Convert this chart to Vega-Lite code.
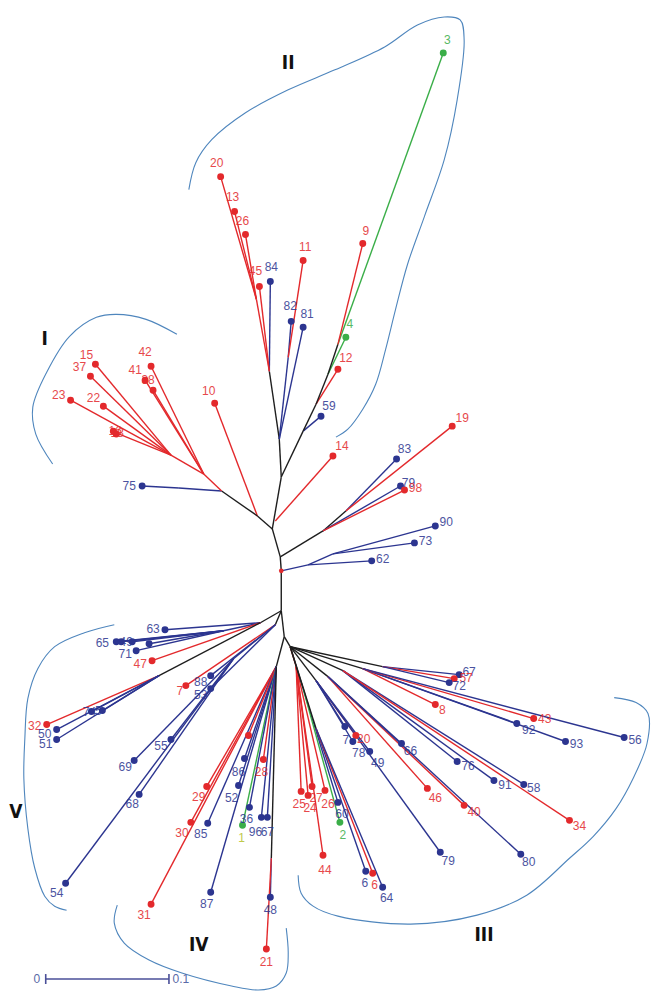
{
"$schema": "https://vega.github.io/schema/vega-lite/v6.json",
"width": 652, "height": 993, "padding": 0,
"autosize": {"type": "fit", "contains": "padding"},
"background": "white",
"config": {"view": {"stroke": null}},
"datasets": {
"segs": [
{"x":283,"y":572,"x2":283,"y2":612,"c":"k"},
{"x":283,"y":572,"x2":282,"y2":558,"c":"k"},
{"x":282,"y":558,"x2":274,"y2":530,"c":"k"},
{"x":274,"y":530,"x2":283,"y2":478,"c":"k"},
{"x":283,"y":478,"x2":281,"y2":440,"c":"k"},
{"x":283,"y":478,"x2":305,"y2":432,"c":"k"},
{"x":281,"y":440,"x2":271,"y2":372,"c":"k"},
{"x":271,"y":372,"x2":272,"y2":282,"c":"b"},
{"x":271,"y":372,"x2":261,"y2":287,"c":"r"},
{"x":271,"y":372,"x2":258,"y2":300,"c":"r"},
{"x":258,"y":300,"x2":222,"y2":177,"c":"r"},
{"x":258,"y":300,"x2":236,"y2":212,"c":"r"},
{"x":258,"y":300,"x2":247,"y2":235,"c":"r"},
{"x":281,"y":440,"x2":290,"y2":358,"c":"b"},
{"x":290,"y":358,"x2":293,"y2":322,"c":"b"},
{"x":290,"y":358,"x2":305,"y2":261,"c":"r"},
{"x":281,"y":440,"x2":305,"y2":328,"c":"b"},
{"x":305,"y":432,"x2":323,"y2":417,"c":"b"},
{"x":305,"y":432,"x2":318,"y2":405,"c":"k"},
{"x":318,"y":405,"x2":340,"y2":370,"c":"r"},
{"x":318,"y":405,"x2":330,"y2":375,"c":"k"},
{"x":330,"y":375,"x2":348,"y2":338,"c":"g"},
{"x":330,"y":375,"x2":340,"y2":345,"c":"k"},
{"x":340,"y":345,"x2":446,"y2":53,"c":"g"},
{"x":340,"y":345,"x2":365,"y2":244,"c":"r"},
{"x":277,"y":522,"x2":335,"y2":457,"c":"r"},
{"x":282,"y":558,"x2":325,"y2":532,"c":"k"},
{"x":325,"y":532,"x2":348,"y2":512,"c":"k"},
{"x":348,"y":512,"x2":399,"y2":460,"c":"b"},
{"x":348,"y":512,"x2":455,"y2":427,"c":"r"},
{"x":325,"y":532,"x2":403,"y2":487,"c":"b"},
{"x":325,"y":532,"x2":407,"y2":491,"c":"r"},
{"x":283,"y":572,"x2":310,"y2":566,"c":"b"},
{"x":310,"y":566,"x2":374,"y2":562,"c":"b"},
{"x":310,"y":566,"x2":335,"y2":555,"c":"b"},
{"x":335,"y":555,"x2":417,"y2":544,"c":"b"},
{"x":335,"y":555,"x2":438,"y2":527,"c":"b"},
{"x":274,"y":530,"x2":259,"y2":517,"c":"k"},
{"x":259,"y":517,"x2":216,"y2":404,"c":"r"},
{"x":259,"y":517,"x2":223,"y2":492,"c":"k"},
{"x":223,"y":492,"x2":180,"y2":489,"c":"b"},
{"x":180,"y":489,"x2":143,"y2":487,"c":"b"},
{"x":223,"y":492,"x2":205,"y2":475,"c":"r"},
{"x":205,"y":475,"x2":152,"y2":367,"c":"r"},
{"x":205,"y":475,"x2":146,"y2":381,"c":"r"},
{"x":205,"y":475,"x2":154,"y2":391,"c":"r"},
{"x":205,"y":475,"x2":172,"y2":456,"c":"r"},
{"x":172,"y":456,"x2":96,"y2":365,"c":"r"},
{"x":172,"y":456,"x2":91,"y2":377,"c":"r"},
{"x":172,"y":456,"x2":71,"y2":401,"c":"r"},
{"x":172,"y":456,"x2":104,"y2":407,"c":"r"},
{"x":172,"y":456,"x2":115,"y2":433,"c":"r"},
{"x":283,"y":612,"x2":262,"y2":624,"c":"k"},
{"x":262,"y":624,"x2":166,"y2":631,"c":"b"},
{"x":262,"y":624,"x2":225,"y2":632,"c":"b"},
{"x":225,"y":632,"x2":117,"y2":643,"c":"b"},
{"x":225,"y":632,"x2":122,"y2":643,"c":"b"},
{"x":225,"y":632,"x2":133,"y2":643,"c":"b"},
{"x":225,"y":632,"x2":137,"y2":652,"c":"b"},
{"x":225,"y":632,"x2":150,"y2":645,"c":"b"},
{"x":262,"y":624,"x2":153,"y2":662,"c":"r"},
{"x":262,"y":624,"x2":160,"y2":677,"c":"k"},
{"x":160,"y":677,"x2":47,"y2":726,"c":"r"},
{"x":160,"y":677,"x2":57,"y2":731,"c":"b"},
{"x":160,"y":677,"x2":57,"y2":741,"c":"b"},
{"x":160,"y":677,"x2":92,"y2":713,"c":"b"},
{"x":160,"y":677,"x2":103,"y2":712,"c":"b"},
{"x":283,"y":612,"x2":277,"y2":626,"c":"k"},
{"x":277,"y":626,"x2":212,"y2":677,"c":"b"},
{"x":277,"y":626,"x2":187,"y2":687,"c":"r"},
{"x":277,"y":626,"x2":212,"y2":690,"c":"b"},
{"x":277,"y":626,"x2":235,"y2":660,"c":"b"},
{"x":235,"y":660,"x2":172,"y2":741,"c":"b"},
{"x":235,"y":660,"x2":135,"y2":762,"c":"b"},
{"x":235,"y":660,"x2":140,"y2":796,"c":"b"},
{"x":235,"y":660,"x2":66,"y2":885,"c":"b"},
{"x":283,"y":612,"x2":286,"y2":638,"c":"k"},
{"x":286,"y":638,"x2":278,"y2":668,"c":"k"},
{"x":278,"y":668,"x2":208,"y2":788,"c":"r"},
{"x":278,"y":668,"x2":192,"y2":824,"c":"r"},
{"x":278,"y":668,"x2":152,"y2":906,"c":"r"},
{"x":278,"y":668,"x2":209,"y2":825,"c":"b"},
{"x":278,"y":668,"x2":212,"y2":894,"c":"b"},
{"x":278,"y":668,"x2":240,"y2":787,"c":"b"},
{"x":278,"y":668,"x2":246,"y2":760,"c":"b"},
{"x":278,"y":668,"x2":250,"y2":737,"c":"r"},
{"x":278,"y":668,"x2":265,"y2":761,"c":"r"},
{"x":278,"y":668,"x2":244,"y2":827,"c":"g"},
{"x":278,"y":668,"x2":251,"y2":809,"c":"b"},
{"x":278,"y":668,"x2":263,"y2":819,"c":"b"},
{"x":278,"y":668,"x2":269,"y2":819,"c":"b"},
{"x":278,"y":668,"x2":273,"y2":860,"c":"k"},
{"x":273,"y":860,"x2":272,"y2":899,"c":"b"},
{"x":273,"y":860,"x2":268,"y2":951,"c":"r"},
{"x":286,"y":638,"x2":292,"y2":648,"c":"k"},
{"x":292,"y":648,"x2":298,"y2":668,"c":"r"},
{"x":298,"y":668,"x2":303,"y2":793,"c":"r"},
{"x":298,"y":668,"x2":310,"y2":797,"c":"r"},
{"x":298,"y":668,"x2":314,"y2":788,"c":"r"},
{"x":298,"y":668,"x2":325,"y2":857,"c":"r"},
{"x":298,"y":668,"x2":327,"y2":792,"c":"r"},
{"x":292,"y":648,"x2":305,"y2":690,"c":"k"},
{"x":305,"y":690,"x2":340,"y2":804,"c":"b"},
{"x":305,"y":690,"x2":342,"y2":824,"c":"g"},
{"x":292,"y":648,"x2":318,"y2":730,"c":"k"},
{"x":318,"y":730,"x2":368,"y2":873,"c":"b"},
{"x":318,"y":730,"x2":375,"y2":875,"c":"r"},
{"x":318,"y":730,"x2":385,"y2":889,"c":"b"},
{"x":292,"y":648,"x2":318,"y2":682,"c":"k"},
{"x":318,"y":682,"x2":347,"y2":728,"c":"b"},
{"x":318,"y":682,"x2":358,"y2":737,"c":"r"},
{"x":318,"y":682,"x2":355,"y2":743,"c":"b"},
{"x":318,"y":682,"x2":372,"y2":753,"c":"b"},
{"x":318,"y":682,"x2":443,"y2":854,"c":"b"},
{"x":292,"y":648,"x2":330,"y2":678,"c":"k"},
{"x":330,"y":678,"x2":404,"y2":745,"c":"b"},
{"x":330,"y":678,"x2":430,"y2":790,"c":"r"},
{"x":330,"y":678,"x2":467,"y2":807,"c":"r"},
{"x":330,"y":678,"x2":524,"y2":856,"c":"b"},
{"x":292,"y":648,"x2":345,"y2":672,"c":"k"},
{"x":345,"y":672,"x2":460,"y2":763,"c":"b"},
{"x":345,"y":672,"x2":497,"y2":782,"c":"b"},
{"x":345,"y":672,"x2":527,"y2":786,"c":"b"},
{"x":345,"y":672,"x2":573,"y2":822,"c":"r"},
{"x":292,"y":648,"x2":365,"y2":670,"c":"k"},
{"x":365,"y":670,"x2":438,"y2":706,"c":"r"},
{"x":365,"y":670,"x2":520,"y2":725,"c":"b"},
{"x":365,"y":670,"x2":569,"y2":743,"c":"b"},
{"x":365,"y":670,"x2":537,"y2":720,"c":"r"},
{"x":365,"y":670,"x2":628,"y2":739,"c":"b"},
{"x":292,"y":648,"x2":385,"y2":668,"c":"k"},
{"x":385,"y":668,"x2":462,"y2":676,"c":"b"},
{"x":385,"y":668,"x2":457,"y2":680,"c":"r"},
{"x":385,"y":668,"x2":452,"y2":684,"c":"b"}
],
"tips": [
{"t":"3","x":446,"y":53,"c":"g","lx":450,"ly":40,"lc":"g"},
{"t":"20","x":222,"y":177,"c":"r","lx":218,"ly":163,"lc":"r"},
{"t":"13","x":236,"y":212,"c":"r","lx":234,"ly":197,"lc":"r"},
{"t":"26","x":247,"y":235,"c":"r","lx":244,"ly":221,"lc":"r"},
{"t":"45","x":261,"y":287,"c":"r","lx":257,"ly":272,"lc":"r"},
{"t":"84","x":272,"y":282,"c":"b","lx":273,"ly":268,"lc":"b"},
{"t":"11","x":305,"y":261,"c":"r","lx":307,"ly":247,"lc":"r"},
{"t":"82","x":293,"y":322,"c":"b","lx":292,"ly":307,"lc":"b"},
{"t":"81","x":305,"y":328,"c":"b","lx":309,"ly":315,"lc":"b"},
{"t":"9","x":365,"y":244,"c":"r","lx":368,"ly":231,"lc":"r"},
{"t":"4","x":348,"y":338,"c":"g","lx":352,"ly":325,"lc":"g"},
{"t":"12","x":340,"y":370,"c":"r","lx":348,"ly":359,"lc":"r"},
{"t":"59","x":323,"y":417,"c":"b","lx":331,"ly":407,"lc":"b"},
{"t":"10","x":216,"y":404,"c":"r","lx":210,"ly":392,"lc":"r"},
{"t":"15","x":96,"y":365,"c":"r","lx":87,"ly":356,"lc":"r"},
{"t":"37","x":91,"y":377,"c":"r","lx":80,"ly":368,"lc":"r"},
{"t":"23","x":71,"y":401,"c":"r","lx":59,"ly":396,"lc":"r"},
{"t":"22","x":104,"y":407,"c":"r","lx":94,"ly":399,"lc":"r"},
{"t":"16","x":114,"y":432,"c":"r","lx":116,"ly":432,"lc":"r"},
{"t":"18","x":117,"y":435,"c":"r","lx":118,"ly":434,"lc":"r"},
{"t":"42","x":152,"y":367,"c":"r","lx":146,"ly":353,"lc":"r"},
{"t":"41","x":146,"y":381,"c":"r","lx":136,"ly":371,"lc":"r"},
{"t":"38","x":154,"y":391,"c":"r","lx":149,"ly":381,"lc":"r"},
{"t":"75","x":143,"y":487,"c":"b","lx":130,"ly":487,"lc":"b"},
{"t":"14","x":335,"y":457,"c":"r","lx":344,"ly":447,"lc":"r"},
{"t":"19","x":455,"y":427,"c":"r","lx":465,"ly":419,"lc":"r"},
{"t":"83","x":399,"y":460,"c":"b","lx":407,"ly":450,"lc":"b"},
{"t":"79","x":403,"y":487,"c":"b","lx":411,"ly":484,"lc":"b"},
{"t":"98","x":407,"y":491,"c":"r","lx":418,"ly":489,"lc":"r"},
{"t":"90","x":438,"y":527,"c":"b","lx":449,"ly":523,"lc":"b"},
{"t":"73","x":417,"y":544,"c":"b","lx":428,"ly":542,"lc":"b"},
{"t":"62","x":374,"y":562,"c":"b","lx":385,"ly":560,"lc":"b"},
{"t":"63","x":166,"y":631,"c":"b","lx":154,"ly":630,"lc":"b"},
{"t":"65","x":117,"y":643,"c":"b","lx":103,"ly":644,"lc":"b"},
{"t":"49","x":122,"y":643,"c":"b","lx":127,"ly":643,"lc":"b"},
{"t":"","x":133,"y":643,"c":"b","lx":133,"ly":643,"lc":"b"},
{"t":"71","x":137,"y":652,"c":"b","lx":126,"ly":655,"lc":"b"},
{"t":"","x":150,"y":645,"c":"b","lx":150,"ly":645,"lc":"b"},
{"t":"47","x":153,"y":662,"c":"r","lx":141,"ly":665,"lc":"r"},
{"t":"32","x":47,"y":726,"c":"r","lx":35,"ly":727,"lc":"r"},
{"t":"50","x":57,"y":731,"c":"b","lx":45,"ly":735,"lc":"b"},
{"t":"51","x":57,"y":741,"c":"b","lx":46,"ly":746,"lc":"b"},
{"t":"74","x":92,"y":713,"c":"b","lx":90,"ly":713,"lc":"b"},
{"t":"5","x":103,"y":712,"c":"b","lx":99,"ly":712,"lc":"b"},
{"t":"7","x":187,"y":687,"c":"r","lx":181,"ly":692,"lc":"r"},
{"t":"88","x":212,"y":677,"c":"b","lx":202,"ly":683,"lc":"b"},
{"t":"53","x":212,"y":690,"c":"b","lx":202,"ly":696,"lc":"b"},
{"t":"55","x":172,"y":741,"c":"b","lx":162,"ly":748,"lc":"b"},
{"t":"69","x":135,"y":762,"c":"b","lx":126,"ly":769,"lc":"b"},
{"t":"68","x":140,"y":796,"c":"b","lx":133,"ly":806,"lc":"b"},
{"t":"54","x":66,"y":885,"c":"b","lx":57,"ly":895,"lc":"b"},
{"t":"29","x":208,"y":788,"c":"r","lx":200,"ly":799,"lc":"r"},
{"t":"30","x":192,"y":824,"c":"r","lx":183,"ly":835,"lc":"r"},
{"t":"31","x":152,"y":906,"c":"r","lx":145,"ly":917,"lc":"r"},
{"t":"85","x":209,"y":825,"c":"b","lx":202,"ly":836,"lc":"b"},
{"t":"87","x":212,"y":894,"c":"b","lx":208,"ly":906,"lc":"b"},
{"t":"52","x":240,"y":787,"c":"b","lx":233,"ly":800,"lc":"b"},
{"t":"86","x":246,"y":760,"c":"b","lx":240,"ly":774,"lc":"b"},
{"t":"","x":250,"y":737,"c":"r","lx":250,"ly":737,"lc":"r"},
{"t":"28","x":265,"y":761,"c":"r","lx":263,"ly":774,"lc":"r"},
{"t":"36","x":251,"y":809,"c":"b","lx":248,"ly":821,"lc":"b"},
{"t":"1","x":244,"y":827,"c":"g","lx":243,"ly":840,"lc":"y"},
{"t":"96","x":263,"y":819,"c":"b","lx":257,"ly":834,"lc":"b"},
{"t":"67","x":269,"y":819,"c":"b","lx":269,"ly":834,"lc":"b"},
{"t":"48","x":272,"y":899,"c":"b","lx":272,"ly":912,"lc":"b"},
{"t":"21","x":268,"y":951,"c":"r","lx":268,"ly":964,"lc":"r"},
{"t":"25","x":303,"y":793,"c":"r","lx":301,"ly":806,"lc":"r"},
{"t":"24","x":310,"y":797,"c":"r","lx":312,"ly":810,"lc":"r"},
{"t":"27","x":314,"y":788,"c":"r","lx":318,"ly":800,"lc":"r"},
{"t":"26","x":327,"y":792,"c":"r","lx":330,"ly":806,"lc":"r"},
{"t":"44","x":325,"y":857,"c":"r","lx":327,"ly":872,"lc":"r"},
{"t":"60","x":340,"y":804,"c":"b","lx":344,"ly":816,"lc":"b"},
{"t":"2","x":342,"y":824,"c":"g","lx":345,"ly":837,"lc":"g"},
{"t":"6","x":368,"y":873,"c":"b","lx":367,"ly":885,"lc":"b"},
{"t":"6","x":375,"y":875,"c":"r","lx":377,"ly":887,"lc":"r"},
{"t":"64","x":385,"y":889,"c":"b","lx":389,"ly":900,"lc":"b"},
{"t":"7","x":347,"y":728,"c":"b","lx":348,"ly":741,"lc":"b"},
{"t":"20","x":358,"y":737,"c":"r","lx":366,"ly":740,"lc":"r"},
{"t":"78","x":355,"y":743,"c":"b","lx":361,"ly":755,"lc":"b"},
{"t":"49","x":372,"y":753,"c":"b","lx":380,"ly":765,"lc":"b"},
{"t":"66","x":404,"y":745,"c":"b","lx":413,"ly":753,"lc":"b"},
{"t":"79","x":443,"y":854,"c":"b","lx":451,"ly":863,"lc":"b"},
{"t":"46","x":430,"y":790,"c":"r","lx":438,"ly":800,"lc":"r"},
{"t":"40","x":467,"y":807,"c":"r","lx":477,"ly":814,"lc":"r"},
{"t":"80","x":524,"y":856,"c":"b","lx":532,"ly":864,"lc":"b"},
{"t":"76","x":460,"y":763,"c":"b","lx":471,"ly":768,"lc":"b"},
{"t":"91","x":497,"y":782,"c":"b","lx":508,"ly":787,"lc":"b"},
{"t":"58","x":527,"y":786,"c":"b","lx":537,"ly":790,"lc":"b"},
{"t":"34","x":573,"y":822,"c":"r","lx":583,"ly":828,"lc":"r"},
{"t":"8","x":438,"y":706,"c":"r","lx":445,"ly":711,"lc":"r"},
{"t":"92","x":520,"y":725,"c":"b","lx":532,"ly":731,"lc":"b"},
{"t":"93","x":569,"y":743,"c":"b","lx":580,"ly":746,"lc":"b"},
{"t":"43","x":537,"y":720,"c":"r","lx":548,"ly":720,"lc":"r"},
{"t":"56","x":628,"y":739,"c":"b","lx":639,"ly":741,"lc":"b"},
{"t":"67","x":462,"y":676,"c":"b","lx":472,"ly":673,"lc":"b"},
{"t":"57","x":457,"y":680,"c":"r","lx":469,"ly":679,"lc":"r"},
{"t":"72","x":452,"y":684,"c":"b","lx":462,"ly":687,"lc":"b"}
],
"curves": [
{"g":"I","o":1,"x":53,"y":465},{"g":"I","o":2,"x":36,"y":435},{"g":"I","o":3,"x":33,"y":408},{"g":"I","o":4,"x":47,"y":373},{"g":"I","o":5,"x":70,"y":337},{"g":"I","o":6,"x":97,"y":318},{"g":"I","o":7,"x":117,"y":315},{"g":"I","o":8,"x":147,"y":320},{"g":"I","o":9,"x":178,"y":335},
{"g":"II","o":1,"x":190,"y":190},{"g":"II","o":2,"x":197,"y":163},{"g":"II","o":3,"x":213,"y":140},{"g":"II","o":4,"x":247,"y":113},{"g":"II","o":5,"x":290,"y":90},{"g":"II","o":6,"x":337,"y":70},{"g":"II","o":7,"x":387,"y":47},{"g":"II","o":8,"x":420,"y":25},{"g":"II","o":9,"x":447,"y":17},{"g":"II","o":10,"x":463,"y":20},{"g":"II","o":11,"x":467,"y":40},{"g":"II","o":12,"x":460,"y":100},{"g":"II","o":13,"x":447,"y":160},{"g":"II","o":14,"x":427,"y":217},{"g":"II","o":15,"x":410,"y":265},{"g":"II","o":16,"x":398,"y":310},{"g":"II","o":17,"x":388,"y":350},{"g":"II","o":18,"x":378,"y":385},{"g":"II","o":19,"x":365,"y":410},{"g":"II","o":20,"x":350,"y":430},{"g":"II","o":21,"x":338,"y":438},
{"g":"V","o":1,"x":115,"y":626},{"g":"V","o":2,"x":85,"y":634},{"g":"V","o":3,"x":55,"y":648},{"g":"V","o":4,"x":38,"y":670},{"g":"V","o":5,"x":28,"y":700},{"g":"V","o":6,"x":25,"y":740},{"g":"V","o":7,"x":24,"y":780},{"g":"V","o":8,"x":28,"y":830},{"g":"V","o":9,"x":35,"y":870},{"g":"V","o":10,"x":45,"y":898},{"g":"V","o":11,"x":55,"y":908},{"g":"V","o":12,"x":67,"y":912},
{"g":"IV","o":1,"x":118,"y":907},{"g":"IV","o":2,"x":115,"y":925},{"g":"IV","o":3,"x":125,"y":945},{"g":"IV","o":4,"x":150,"y":962},{"g":"IV","o":5,"x":183,"y":975},{"g":"IV","o":6,"x":233,"y":988},{"g":"IV","o":7,"x":260,"y":992},{"g":"IV","o":8,"x":278,"y":988},{"g":"IV","o":9,"x":288,"y":975},{"g":"IV","o":10,"x":290,"y":955},{"g":"IV","o":11,"x":288,"y":930},
{"g":"III","o":1,"x":618,"y":699},{"g":"III","o":2,"x":640,"y":704},{"g":"III","o":3,"x":652,"y":715},{"g":"III","o":4,"x":651,"y":745},{"g":"III","o":5,"x":637,"y":780},{"g":"III","o":6,"x":620,"y":810},{"g":"III","o":7,"x":597,"y":838},{"g":"III","o":8,"x":573,"y":860},{"g":"III","o":9,"x":530,"y":897},{"g":"III","o":10,"x":480,"y":917},{"g":"III","o":11,"x":413,"y":926},{"g":"III","o":12,"x":340,"y":918},{"g":"III","o":13,"x":315,"y":908},{"g":"III","o":14,"x":303,"y":895},{"g":"III","o":15,"x":300,"y":877}
],
"clusters": [
{"t":"I","x":45,"y":340},{"t":"II","x":290,"y":63},{"t":"III","x":487,"y":937},{"t":"IV","x":200,"y":947},{"t":"V","x":16,"y":814}
],
"bar": [
{"x":46,"y":981,"x2":170,"y2":981},{"x":46,"y":976,"x2":46,"y2":986},{"x":170,"y":976,"x2":170,"y2":986}
],
"barText": [{"t":"0","x":37,"y":981},{"t":"0.1","x":182,"y":981}],
"center": [{"x":283,"y":572}]
},
"layer": [
{"data":{"name":"curves"},"mark":{"type":"line","interpolate":"catmull-rom","stroke":"#4f86bd","strokeWidth":1.1},
 "encoding":{"x":{"field":"x","type":"quantitative","scale":{"domain":[0,652],"nice":false,"zero":false},"axis":null},
 "y":{"field":"y","type":"quantitative","scale":{"domain":[0,993],"nice":false,"zero":false,"reverse":true},"axis":null},
 "detail":{"field":"g"},"order":{"field":"o","type":"quantitative"}}},
{"data":{"name":"segs"},"mark":{"type":"rule","strokeWidth":1.4},
 "encoding":{"x":{"field":"x","type":"quantitative"},"y":{"field":"y","type":"quantitative"},
 "x2":{"field":"x2"},"y2":{"field":"y2"},
 "color":{"field":"c","type":"nominal","scale":{"domain":["k","r","b","g","y"],"range":["#1e1e1e","#e3292c","#2c3590","#3aae48","#b5c12a"]},"legend":null}}},
{"data":{"name":"tips"},"mark":{"type":"circle","size":48,"opacity":1},
 "encoding":{"x":{"field":"x","type":"quantitative"},"y":{"field":"y","type":"quantitative"},
 "color":{"field":"c","type":"nominal","legend":null}}},
{"data":{"name":"center"},"mark":{"type":"circle","size":22,"opacity":1,"color":"#e3292c"},
 "encoding":{"x":{"field":"x","type":"quantitative"},"y":{"field":"y","type":"quantitative"}}},
{"data":{"name":"tips"},"mark":{"type":"text","font":"Liberation Sans","fontSize":12,"align":"center","baseline":"middle","opacity":0.85},
 "encoding":{"x":{"field":"lx","type":"quantitative"},"y":{"field":"ly","type":"quantitative"},"text":{"field":"t"},
 "color":{"field":"lc","type":"nominal","legend":null}}},
{"data":{"name":"clusters"},"mark":{"type":"text","font":"DejaVu Sans Condensed, Liberation Sans, sans-serif","fontSize":19,"fontWeight":"bold","align":"center","baseline":"middle","color":"#111111"},
 "encoding":{"x":{"field":"x","type":"quantitative"},"y":{"field":"y","type":"quantitative"},"text":{"field":"t"}}},
{"data":{"name":"bar"},"mark":{"type":"rule","strokeWidth":1.6,"color":"#4a4f98"},
 "encoding":{"x":{"field":"x","type":"quantitative"},"y":{"field":"y","type":"quantitative"},"x2":{"field":"x2"},"y2":{"field":"y2"}}},
{"data":{"name":"barText"},"mark":{"type":"text","font":"Liberation Sans","fontSize":12,"align":"center","baseline":"middle","color":"#5a6aa8"},
 "encoding":{"x":{"field":"x","type":"quantitative"},"y":{"field":"y","type":"quantitative"},"text":{"field":"t"}}}
]
}
